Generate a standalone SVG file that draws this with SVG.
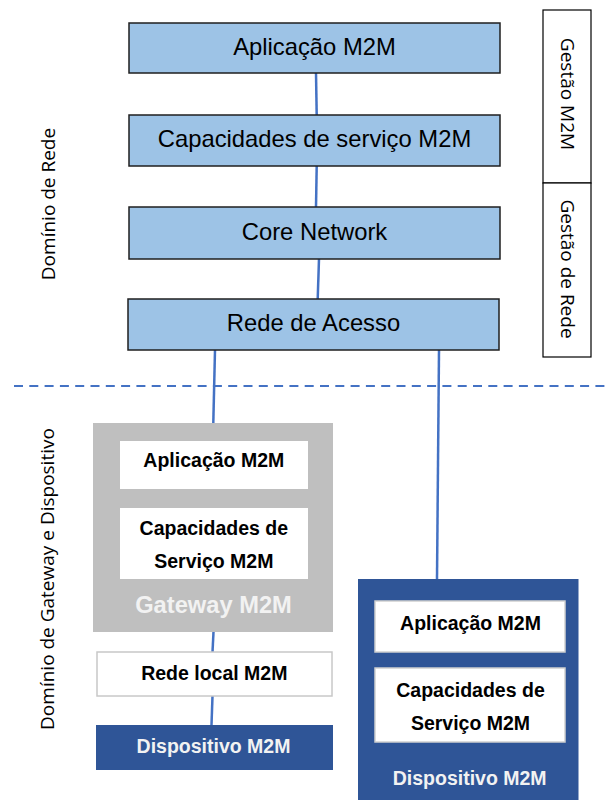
<svg xmlns="http://www.w3.org/2000/svg" width="605" height="800" viewBox="0 0 605 800">
  <style>
    .layer { fill: #9dc3e6; stroke: #1f1f1f; stroke-width: 1.5; }
    .layer-text { font-family: "Liberation Sans", Arial, sans-serif; font-size: 23.8px; fill: #000; text-anchor: middle; }
    .mgmt { fill: #fff; stroke: #000; stroke-width: 1.2; }
    .side { font-family: "Open Sans", "Noto Sans", sans-serif; font-size: 19px; fill: #000; text-anchor: middle; }
    .inner { fill: #fff; }
    .inner-b { fill: #fff; stroke: #d0d0d0; stroke-width: 1.5; }
    .bold { font-family: "Liberation Sans", Arial, sans-serif; font-weight: bold; font-size: 19.5px; fill: #000; text-anchor: middle; }
    .title { font-family: "Liberation Sans", Arial, sans-serif; font-weight: bold; fill: #f2f2f2; text-anchor: middle; }
    .link { stroke: #4472c4; stroke-width: 2.5; fill: none; }
  </style>

  <!-- domain boundary -->
  <line x1="14" y1="386" x2="605" y2="386" stroke="#4472c4" stroke-width="2" stroke-dasharray="9 6.3"/>

  <!-- domain labels -->
  <text class="side" transform="translate(55,204) rotate(-90)">Domínio de Rede</text>
  <text class="side" transform="translate(54,579) rotate(-90)">Domínio de Gateway e Dispositivo</text>

  <!-- connectors -->
  <g id="connectors">
    <line class="link" x1="316" y1="73" x2="316.7" y2="115"/>
    <line class="link" x1="316.7" y1="166" x2="316" y2="207"/>
    <line class="link" x1="319" y1="259" x2="317.7" y2="299"/>
    <line class="link" x1="215" y1="350" x2="213.3" y2="423"/>
    <line class="link" x1="439" y1="350" x2="437" y2="579"/>
    <line class="link" x1="213.5" y1="632" x2="212.5" y2="652"/>
    <line class="link" x1="212.5" y1="696" x2="211.5" y2="725"/>
  </g>

  <!-- network domain layers -->
  <g id="app-m2m">
    <rect class="layer" x="129" y="23" width="371" height="50"/>
    <text class="layer-text" x="314.5" y="54.5">Aplicação M2M</text>
  </g>
  <g id="service-capabilities">
    <rect class="layer" x="129" y="115" width="371" height="51"/>
    <text class="layer-text" x="314.5" y="146.5">Capacidades de serviço M2M</text>
  </g>
  <g id="core-network">
    <rect class="layer" x="129" y="207" width="371" height="52"/>
    <text class="layer-text" x="314.5" y="240">Core Network</text>
  </g>
  <g id="access-network">
    <rect class="layer" x="128" y="299" width="371" height="51"/>
    <text class="layer-text" x="313.5" y="330.5">Rede de Acesso</text>
  </g>

  <!-- management column -->
  <g id="m2m-management">
    <rect class="mgmt" x="543" y="10" width="48" height="173"/>
    <text class="side" transform="translate(561,94) rotate(90)">Gestão M2M</text>
  </g>
  <g id="network-management">
    <rect class="mgmt" x="543" y="183" width="48" height="174"/>
    <text class="side" transform="translate(561,269) rotate(90)">Gestão de Rede</text>
  </g>

  <!-- gateway -->
  <g id="gateway">
    <rect x="93" y="423" width="240" height="209" fill="#bfbfbf"/>
    <rect class="inner" x="120" y="441" width="188" height="48"/>
    <text class="bold" x="213.8" y="467.3">Aplicação M2M</text>
    <rect class="inner" x="120" y="508" width="188" height="71"/>
    <text class="bold" x="213.8" y="535">Capacidades de</text>
    <text class="bold" x="213.8" y="568.3">Serviço M2M</text>
    <text class="title" x="213.5" y="613" font-size="23.7">Gateway M2M</text>
  </g>

  <!-- local network -->
  <g id="local-network">
    <rect x="97" y="652" width="235" height="44" fill="#fff" stroke="#c8c8c8" stroke-width="1.5"/>
    <text class="bold" x="214.3" y="680">Rede local M2M</text>
  </g>

  <!-- device behind gateway -->
  <g id="device-local">
    <rect x="96" y="725" width="237" height="45" fill="#2f5597"/>
    <text class="title" x="213.5" y="752.7" font-size="19.5">Dispositivo M2M</text>
  </g>

  <!-- directly connected device -->
  <g id="device-direct">
    <rect x="358" y="579" width="220.5" height="221" fill="#2f5597"/>
    <rect class="inner-b" x="375" y="601" width="190" height="51"/>
    <text class="bold" x="470.5" y="630">Aplicação M2M</text>
    <rect class="inner-b" x="375" y="668" width="190" height="74"/>
    <text class="bold" x="470.5" y="696.7">Capacidades de</text>
    <text class="bold" x="470.5" y="730">Serviço M2M</text>
    <text class="title" x="469.7" y="785" font-size="19.5">Dispositivo M2M</text>
  </g>
</svg>
